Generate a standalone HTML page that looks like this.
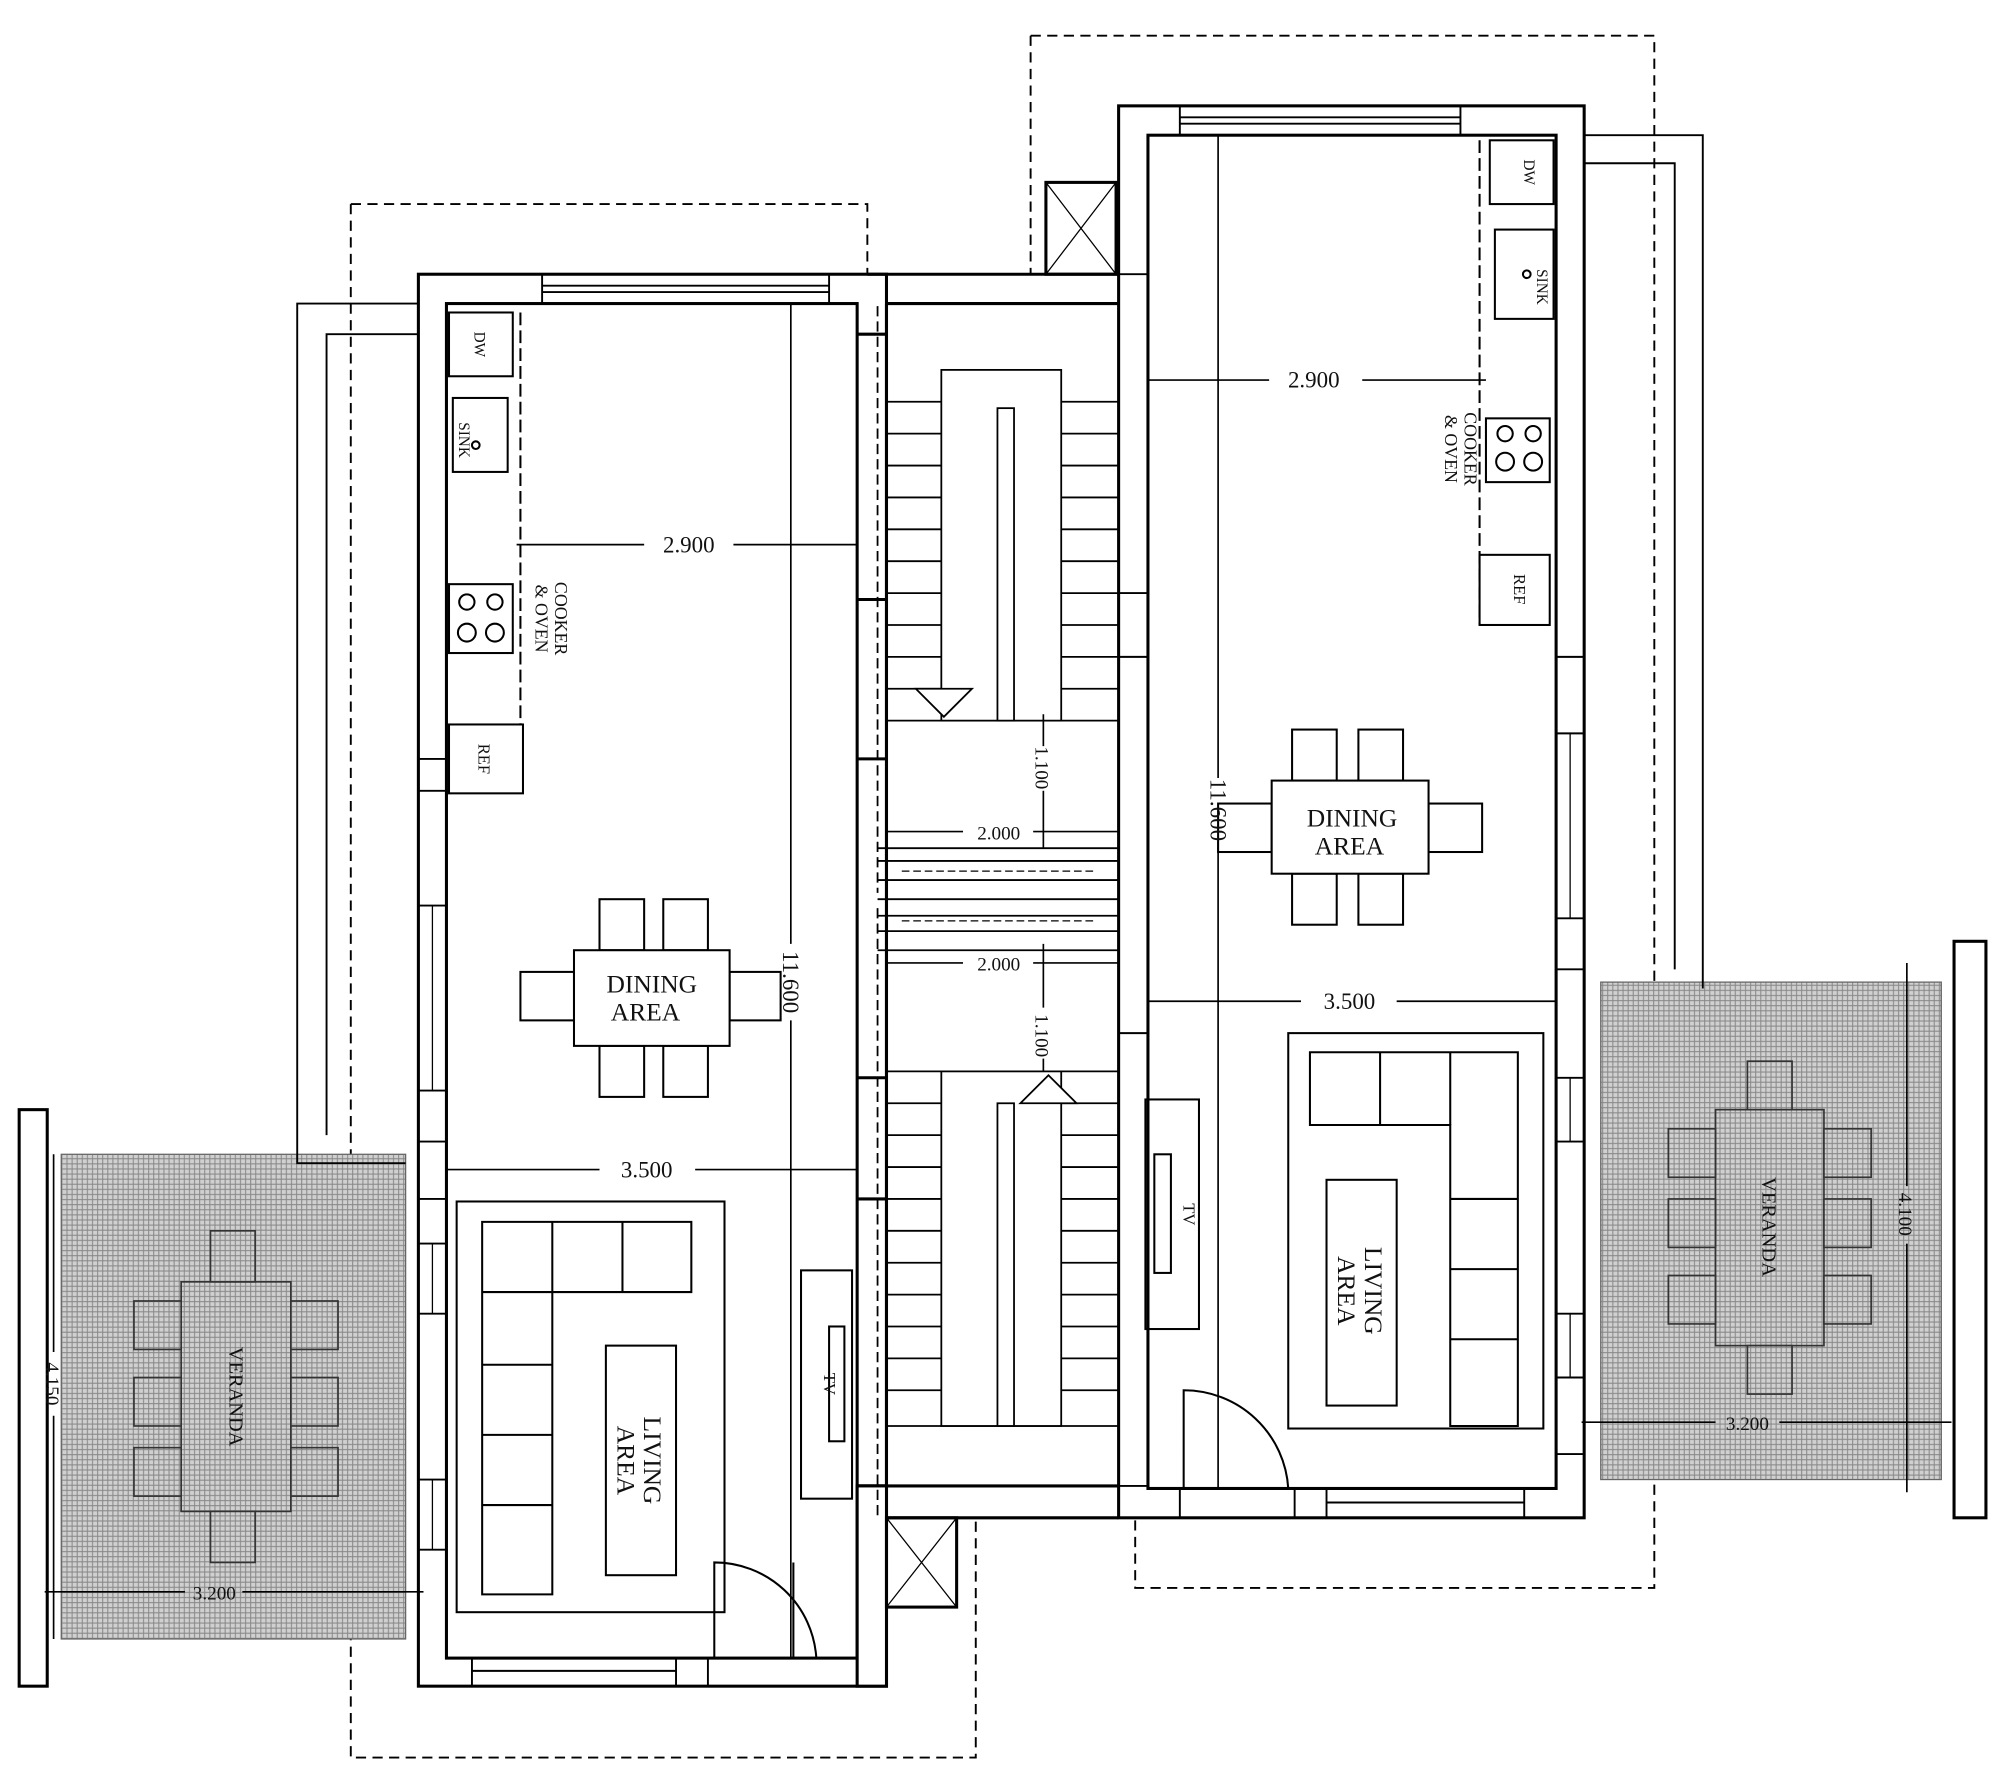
<!DOCTYPE html>
<html><head><meta charset="utf-8"><style>
html,body{margin:0;padding:0;background:#fff;}
svg{display:block;}
text{font-family:"Liberation Serif",serif;fill:#111;}
</style></head><body>
<svg width="2000" height="1778" viewBox="0 0 1568 1394" xmlns="http://www.w3.org/2000/svg">
<defs>
<pattern id="hat" width="4" height="4" patternUnits="userSpaceOnUse">
<rect width="4" height="4" fill="#d0d0d0"/><path d="M0 0.5H4M0.5 0V4" stroke="#888" stroke-width="0.8"/>
</pattern>
</defs>
<g fill="none" stroke="#000" stroke-width="2.4">
<path d="M275 160H680V215M275 160V1378H765V1190" stroke-dasharray="8 5" stroke-width="1.5"/>
<path d="M808 28H1297V1245H890V1190M808 28V215" stroke-dasharray="8 5" stroke-width="1.5"/>
<rect x="48" y="905" width="270" height="380" fill="url(#hat)" stroke="#666" stroke-width="1"/>
<rect x="1255" y="770" width="267" height="390" fill="url(#hat)" stroke="#666" stroke-width="1"/>
<rect x="15" y="870" width="22" height="452" fill="#fff"/>
<rect x="1532" y="738" width="25" height="452" fill="#fff"/>
<path d="M328 238H233V912H318M328 262H256V890" stroke-width="1.5"/>
<path d="M1220 106H1335V775M1220 128H1313V760" stroke-width="1.5"/>
<rect x="328" y="215" width="367" height="1107" fill="#fff"/>
<rect x="350" y="238" width="322" height="1062"/>
<path d="M425 215V238M650 215V238M425 224H650M425 229H650" stroke-width="1.5"/>
<path d="M328 595H350M328 620H350M328 710H350M328 855H350M328 895H350M328 940H350M328 975H350M328 1030H350M328 1160H350M328 1215H350" stroke-width="1.5"/>
<path d="M339 710V855M339 975V1030M339 1160V1215" stroke-width="1"/>
<path d="M370 1300V1322M530 1300V1322M370 1310H530M555 1300V1322M672 238V1300" stroke-width="1.5"/>
<path d="M672 595H695M672 845H695M672 940H695M672 1165H695M672 262H695M672 470H695"/>
<path d="M680 215H877M695 238H877M672 1165H900M672 1190H877M695 238V1322" />
<rect x="672" y="1165" width="23" height="157" fill="#fff"/>
<rect x="695" y="1190" width="55" height="70"/><path d="M695 1190L750 1260M750 1190L695 1260" stroke-width="1"/>
<rect x="820" y="143" width="55" height="72"/><path d="M820 143L875 215M875 143L820 215" stroke-width="1"/>
<g stroke-width="1.4">
<path d="M695 315H877M695 340H877M695 365H877M695 390H877M695 415H877M695 440H877M695 465H877M695 490H877M695 515H877M695 540H877M695 565H877"/>
<rect x="738" y="290" width="94" height="275" fill="#fff"/>
<rect x="782" y="320" width="13" height="245" fill="#fff"/>
<path d="M718 540L740 562L762 540Z" fill="#fff"/>
<path d="M695 865H877M695 890H877M695 915H877M695 940H877M695 965H877M695 990H877M695 1015H877M695 1040H877M695 1065H877M695 1090H877M695 1118H877M695 840H877"/>
<rect x="738" y="840" width="94" height="278" fill="#fff"/>
<rect x="782" y="865" width="13" height="253" fill="#fff"/>
<path d="M800 865L822 843L844 865Z" fill="#fff"/>
<path d="M688 665H877M688 675H877M688 690H900M688 705H900M688 718H877M688 730H877M688 745H877" />
<path d="M688 240V700M688 712V1190M877 700V1165M887 700V1165" stroke-dasharray="8 4"/>
<path d="M707 683H860M707 722H860" stroke-dasharray="6 3" stroke-width="1"/>
</g>
<rect x="877" y="83" width="365" height="1107" fill="#fff"/>
<rect x="900" y="106" width="320" height="1061"/>
<path d="M925 83V106M1145 83V106M925 92H1145M925 97H1145" stroke-width="1.5"/>
<path d="M877 215H900M877 465H900M877 515H900M877 810H900M877 1165H900M1220 515H1242M1220 575H1242M1220 720H1242M1220 760H1242M1220 845H1242M1220 895H1242M1220 1030H1242M1220 1080H1242M1220 1140H1242" stroke-width="1.5"/>
<path d="M1231 575V720M1231 845V895M1231 1030V1080" stroke-width="1"/>
<path d="M925 1167V1190M1015 1167V1190M1040 1167V1190M1195 1167V1190M1040 1178H1195" stroke-width="1.5"/>
<g stroke-width="1.6">
<path d="M408 245V620" stroke-dasharray="10 4"/>
<rect x="352" y="245" width="50" height="50"/><rect x="355" y="312" width="43" height="58"/><circle cx="373" cy="349" r="3"/>
<rect x="352" y="458" width="50" height="54"/><circle cx="366" cy="472" r="6"/><circle cx="388" cy="472" r="6"/><circle cx="366" cy="496" r="7"/><circle cx="388" cy="496" r="7"/>
<rect x="352" y="568" width="58" height="54" fill="#fff"/>
<path d="M1160 110V490" stroke-dasharray="10 4"/>
<rect x="1168" y="110" width="50" height="50"/><rect x="1172" y="180" width="46" height="70"/><circle cx="1197" cy="215" r="3"/>
<rect x="1165" y="328" width="50" height="50"/><circle cx="1180" cy="340" r="6"/><circle cx="1202" cy="340" r="6"/><circle cx="1180" cy="362" r="7"/><circle cx="1202" cy="362" r="7"/>
<rect x="1160" y="435" width="55" height="55" fill="#fff"/>
</g>
<g stroke-width="1.6" fill="#fff">
<rect x="470" y="705" width="35" height="40"/><rect x="520" y="705" width="35" height="40"/>
<rect x="470" y="820" width="35" height="40"/><rect x="520" y="820" width="35" height="40"/>
<rect x="408" y="762" width="42" height="38"/><rect x="572" y="762" width="40" height="38"/>
<rect x="450" y="745" width="122" height="75"/>
<rect x="1013" y="572" width="35" height="40"/><rect x="1065" y="572" width="35" height="40"/>
<rect x="1013" y="685" width="35" height="40"/><rect x="1065" y="685" width="35" height="40"/>
<rect x="955" y="630" width="42" height="38"/><rect x="1120" y="630" width="42" height="38"/>
<rect x="997" y="612" width="123" height="73"/>
</g>
<g stroke-width="1.6">
<rect x="358" y="942" width="210" height="322"/>
<path d="M378 958H542V1013H433V1250H378Z"/><path d="M433 958V1013M488 958V1013M378 1013H433M378 1070H433M378 1125H433M378 1180H433"/>
<rect x="475" y="1055" width="55" height="180"/>
<rect x="628" y="996" width="40" height="179"/><rect x="650" y="1040" width="12" height="90"/>
<path d="M560 1300V1225A80 80 0 0 1 640 1300"/><path d="M622 1225V1300"/>
<rect x="1010" y="810" width="200" height="310"/>
<path d="M1027 825H1190V1118H1137V882H1027Z"/><path d="M1082 825V882M1137 825V882M1137 940H1190M1137 995H1190M1137 1050H1190"/>
<rect x="1040" y="925" width="55" height="177"/>
<rect x="898" y="862" width="42" height="180"/><rect x="905" y="905" width="13" height="93"/>
<path d="M1010 1167A82 82 0 0 0 928 1090V1167"/>
</g>
<g stroke-width="1.3" fill="url(#hat)" stroke="#333">
<rect x="142" y="1005" width="86" height="180"/>
<rect x="105" y="1020" width="37" height="38"/><rect x="105" y="1080" width="37" height="38"/><rect x="105" y="1135" width="37" height="38"/>
<rect x="228" y="1020" width="37" height="38"/><rect x="228" y="1080" width="37" height="38"/><rect x="228" y="1135" width="37" height="38"/>
<rect x="165" y="965" width="35" height="40"/><rect x="165" y="1185" width="35" height="40"/>
<rect x="1345" y="870" width="85" height="185"/>
<rect x="1308" y="885" width="37" height="38"/><rect x="1308" y="940" width="37" height="38"/><rect x="1308" y="1000" width="37" height="38"/>
<rect x="1430" y="885" width="37" height="38"/><rect x="1430" y="940" width="37" height="38"/><rect x="1430" y="1000" width="37" height="38"/>
<rect x="1370" y="832" width="35" height="38"/><rect x="1370" y="1055" width="35" height="38"/>
</g>
<g stroke-width="1.3">
<path d="M405 427H505M575 427H672M900 298H995M1068 298H1165M350 917H470M545 917H672M900 785H1020M1095 785H1220"/>
<path d="M620 238V740M620 800V1300M955 106V610M955 660V1167"/>
<path d="M695 652H755M810 652H877M695 755H755M810 755H877M818 560V585M818 620V665M818 740V790M818 830V840"/>
<path d="M42 905V1060M42 1110V1285M35 1248H145M190 1248H332M1495 755V930M1495 975V1170M1240 1115H1345M1395 1115H1530"/>
</g>
</g>
<g font-size="18">
<text x="540" y="433" text-anchor="middle">2.900</text>
<text x="1030" y="304" text-anchor="middle">2.900</text>
<text x="507" y="923" text-anchor="middle">3.500</text>
<text x="1058" y="791" text-anchor="middle">3.500</text>
<text x="783" y="658" text-anchor="middle" font-size="15">2.000</text>
<text x="783" y="761" text-anchor="middle" font-size="15">2.000</text>
<text transform="translate(812,602) rotate(90)" text-anchor="middle" font-size="15">1.100</text>
<text transform="translate(812,812) rotate(90)" text-anchor="middle" font-size="15">1.100</text>
<text transform="translate(614,770) rotate(90)" text-anchor="middle">11.600</text>
<text transform="translate(949,635) rotate(90)" text-anchor="middle">11.600</text>
<text x="168" y="1254" text-anchor="middle" font-size="15" fill="#555">3.200</text>
<text x="1370" y="1121" text-anchor="middle" font-size="15" fill="#555">3.200</text>
<text transform="translate(36,1085) rotate(90)" text-anchor="middle" font-size="15" fill="#555">4.150</text>
<text transform="translate(1489,952) rotate(90)" text-anchor="middle" font-size="15" fill="#555">4.100</text>
<text x="511" y="778" text-anchor="middle" font-size="20">DINING</text>
<text x="506" y="800" text-anchor="middle" font-size="20">AREA</text>
<text x="1060" y="648" text-anchor="middle" font-size="20">DINING</text>
<text x="1058" y="670" text-anchor="middle" font-size="20">AREA</text>
<text transform="translate(505,1145) rotate(90)" text-anchor="middle" font-size="20">LIVING</text>
<text transform="translate(484,1145) rotate(90)" text-anchor="middle" font-size="20">AREA</text>
<text transform="translate(1070,1012) rotate(90)" text-anchor="middle" font-size="20">LIVING</text>
<text transform="translate(1049,1012) rotate(90)" text-anchor="middle" font-size="20">AREA</text>
<text transform="translate(180,1095) rotate(90)" text-anchor="middle" font-size="16" fill="#555">VERANDA</text>
<text transform="translate(1382,962) rotate(90)" text-anchor="middle" font-size="16" fill="#555">VERANDA</text>
<text transform="translate(372,270) rotate(90)" text-anchor="middle" font-size="12">DW</text>
<text transform="translate(1195,135) rotate(90)" text-anchor="middle" font-size="12">DW</text>
<text transform="translate(360,345) rotate(90)" text-anchor="middle" font-size="12">SINK</text>
<text transform="translate(1205,225) rotate(90)" text-anchor="middle" font-size="12">SINK</text>
<text transform="translate(375,595) rotate(90)" text-anchor="middle" font-size="13">REF</text>
<text transform="translate(1187,462) rotate(90)" text-anchor="middle" font-size="13">REF</text>
<text transform="translate(435,485) rotate(90)" text-anchor="middle" font-size="14">COOKER</text>
<text transform="translate(420,485) rotate(90)" text-anchor="middle" font-size="14">&amp; OVEN</text>
<text transform="translate(1148,352) rotate(90)" text-anchor="middle" font-size="14">COOKER</text>
<text transform="translate(1133,352) rotate(90)" text-anchor="middle" font-size="14">&amp; OVEN</text>
<text transform="translate(646,1085) rotate(90)" text-anchor="middle" font-size="13">TV</text>
<text transform="translate(928,952) rotate(90)" text-anchor="middle" font-size="13">TV</text>
</g>
</svg>
</body></html>
